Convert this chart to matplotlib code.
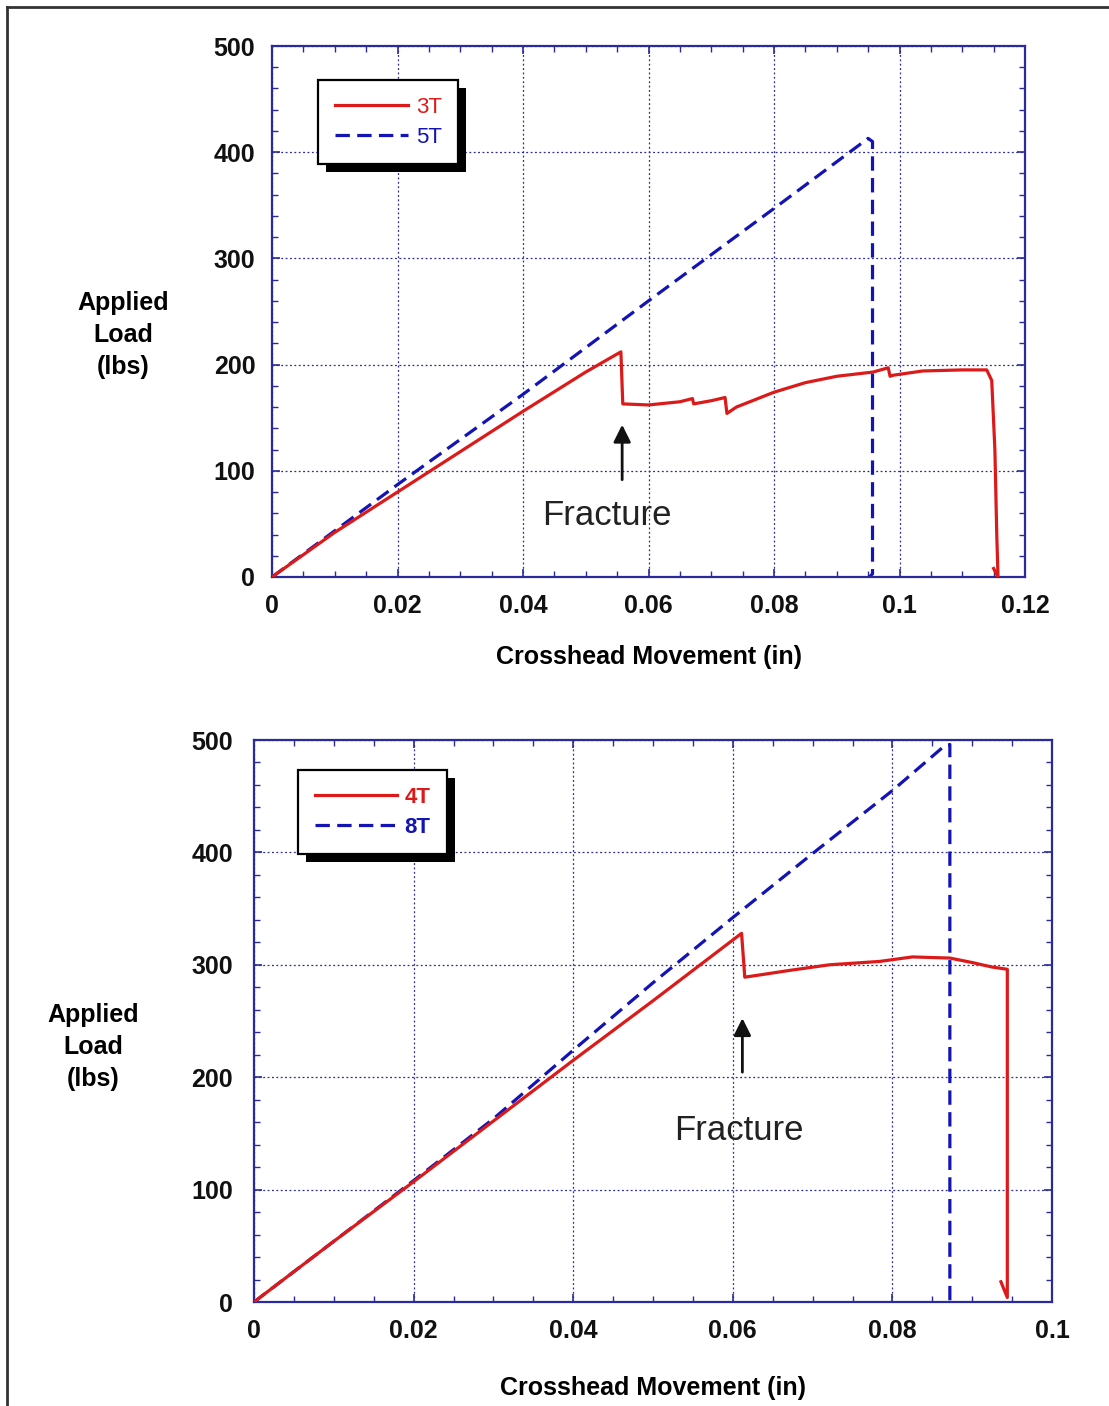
import matplotlib.pyplot as plt
from matplotlib.lines import Line2D
from matplotlib.patches import Rectangle
from matplotlib.transforms import IdentityTransform
from matplotlib.ticker import MultipleLocator

# --- top panel: 3T / 5T ---
x_3t = [0, 0.010, 0.020, 0.030, 0.040, 0.050, 0.0556, 0.0559, 0.0600, 0.0650, 0.0670,
        0.0672, 0.0700, 0.0722, 0.0725, 0.0740, 0.0800, 0.0850, 0.0900, 0.0958, 0.0982,
        0.0985, 0.0990, 0.1037, 0.1100, 0.1139, 0.1147, 0.1152, 0.1155, 0.1157, 0.1150]
y_3t = [0, 42, 80, 118, 156, 193, 212, 163, 162, 165, 168,
        163, 166, 169, 154, 160, 174, 183, 189, 193, 197,
        189, 190, 194, 195, 195, 185, 120, 40, 0, 8]
x_5t = [0, 0.020, 0.040, 0.060, 0.080, 0.0950, 0.0957, 0.0957, 0.0952]
y_5t = [0, 87, 172, 260, 347, 413, 410, 3, 0]

# --- bottom panel: 4T / 8T ---
x_4t = [0, 0.010, 0.020, 0.030, 0.040, 0.050, 0.0611, 0.0615, 0.0634, 0.0671, 0.0721,
        0.0784, 0.0825, 0.0872, 0.0900, 0.0925, 0.0944, 0.0944, 0.0936]
y_4t = [0, 54, 107, 161, 215, 268, 328, 289, 291, 295, 300,
        303, 307, 306, 302, 298, 296, 4, 18]
x_8t = [0, 0.010, 0.020, 0.030, 0.040, 0.050, 0.060, 0.070, 0.080, 0.0864, 0.0872, 0.0872]
y_8t = [0, 54, 108, 163, 224, 284, 342, 399, 455, 494, 496, 0]

RED = '#dd1a1a'
BLUE = '#1414b4'
NAVY = '#2a2a9a'
FONT = 'Liberation Sans'

W, H = 1109, 1406
fig = plt.figure(figsize=(W / 100, H / 100), dpi=100)


def px_axes(left, top, right, bottom):
    return fig.add_axes([left / W, 1 - bottom / H, (right - left) / W, (bottom - top) / H])


def style(ax, xmax, xstep, ylab_pad, xlab_pad):
    ax.set_xlim(0, xmax)
    ax.set_ylim(0, 500)
    ax.xaxis.set_major_locator(MultipleLocator(xstep))
    ax.xaxis.set_minor_locator(MultipleLocator(xstep / 4))
    ax.yaxis.set_major_locator(MultipleLocator(100))
    ax.yaxis.set_minor_locator(MultipleLocator(20))
    ax.xaxis.set_major_formatter(lambda v, p: '0' if abs(v) < 1e-9 else ('%.2f' % v).rstrip('0'))
    for s in ax.spines.values():
        s.set_color(NAVY)
        s.set_linewidth(1.6)
    ax.tick_params(which='both', direction='in', top=True, right=True, color=NAVY)
    ax.tick_params(which='major', length=6, width=1.2)
    ax.tick_params(which='minor', length=4, width=1.0)
    ax.tick_params(axis='y', pad=ylab_pad)
    ax.tick_params(axis='x', pad=xlab_pad)
    for lab in ax.get_xticklabels() + ax.get_yticklabels():
        lab.set_fontfamily(FONT)
        lab.set_fontweight('bold')
        lab.set_fontsize(18)
        lab.set_color('#111111')
    ax.grid(True, which='major', color=NAVY, linestyle=(0, (1.5, 2)), linewidth=0.9)
    ax.set_axisbelow(True)


def add_legend(ax, anchor, weight, hlen):
    leg = ax.legend(loc='upper left', bbox_to_anchor=anchor, borderaxespad=0,
                    fancybox=False, edgecolor='black', framealpha=1,
                    handlelength=hlen, handletextpad=0.35, borderpad=0.75, labelspacing=0.4,
                    labelcolor='linecolor', prop={'family': FONT, 'size': 16, 'weight': weight})
    leg.get_frame().set_linewidth(1.6)
    leg.set_zorder(6)
    return leg


# top axes
ax1 = px_axes(272, 46, 1025, 577)
ax1.plot(x_3t, y_3t, color=RED, lw=2.3, label='3T', zorder=3)
ax1.plot(x_5t, y_5t, color=BLUE, lw=2.3, dashes=(4.5, 2.3), label='5T', zorder=2)
style(ax1, 0.12, 0.02, 12, 12)
ax1.annotate('', xy=(0.0558, 146), xytext=(0.0558, 89),
             arrowprops=dict(arrowstyle='-|>', color='#111111', lw=2, mutation_scale=26))
ax1.text(0.0533, 58, 'Fracture', ha='center', va='center', fontsize=25,
         family=FONT, color='#222222')
ax1.set_xlabel('Crosshead Movement (in)', family=FONT, fontsize=18, fontweight='bold', labelpad=20)
fig.text(123 / W, 1 - 335 / H, 'Applied\nLoad\n(lbs)', ha='center', va='center',
         family=FONT, fontsize=18, fontweight='bold', linespacing=1.4)
leg1 = add_legend(ax1, (46 / 753, 1 - 34 / 531), 'normal', 3.3)

# bottom axes
ax2 = px_axes(254, 740, 1052, 1302)
ax2.plot(x_4t, y_4t, color=RED, lw=2.3, label='4T', zorder=3)
ax2.plot(x_8t, y_8t, color=BLUE, lw=2.3, dashes=(4.5, 2.3), label='8T', zorder=2)
style(ax2, 0.1, 0.02, 15, 12)
ax2.annotate('', xy=(0.0612, 255), xytext=(0.0612, 202),
             arrowprops=dict(arrowstyle='-|>', color='#111111', lw=2, mutation_scale=26))
ax2.text(0.0607, 153, 'Fracture', ha='center', va='center', fontsize=25,
         family=FONT, color='#222222')
ax2.set_xlabel('Crosshead Movement (in)', family=FONT, fontsize=18, fontweight='bold', labelpad=24)
fig.text(93 / W, 1 - 1047 / H, 'Applied\nLoad\n(lbs)', ha='center', va='center',
         family=FONT, fontsize=18, fontweight='bold', linespacing=1.4)
leg2 = add_legend(ax2, (44 / 798, 1 - 30 / 562), 'bold', 3.7)

# black drop shadows behind the legend boxes
fig.canvas.draw()
for ax, leg in ((ax1, leg1), (ax2, leg2)):
    bb = leg.get_frame().get_window_extent()
    ax.add_patch(Rectangle((bb.x0 + 8, bb.y0 - 8), bb.width, bb.height, transform=IdentityTransform(),
                           facecolor='black', edgecolor='none', zorder=5.5, clip_on=False))

# page frame (left and top edges)
fig.add_artist(Line2D([7 / W, 7 / W], [0, 1 - 7 / H], color='#333333', lw=2))
fig.add_artist(Line2D([7 / W, 1], [1 - 7 / H, 1 - 7 / H], color='#333333', lw=2))

fig.savefig('out.png', dpi=100)
